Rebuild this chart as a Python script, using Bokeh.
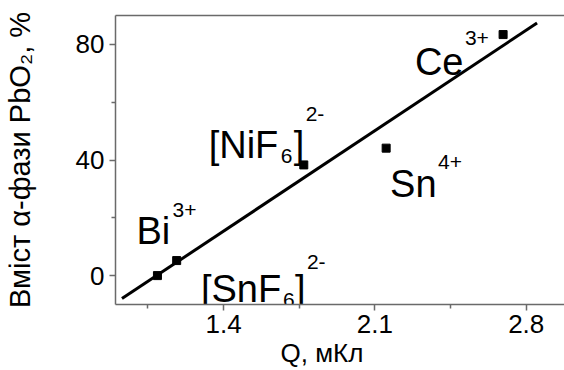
import numpy as np
from bokeh.plotting import figure
from bokeh.models import ColumnDataSource, FixedTicker, LinearAxis, Range1d
from bokeh.embed import file_html
from bokeh.resources import INLINE
from bokeh.core.properties import value

# ---- data ----
ions = ["Bi3+", "[SnF6]2-", "[NiF6]2-", "Sn4+", "Ce3+"]
charge_q = [1.094, 1.183, 1.771, 2.152, 2.693]      # Q, мКл
alpha_pct = [0.0, 5.2, 38.3, 44.1, 83.4]            # вміст α-PbO2, %
fit_q = [0.93, 2.85]                                 # extent of the linear fit
x_ticks = [1.4, 2.1, 2.8]
x_minor = [1.05, 1.75, 2.45]
y_ticks = [0, 40, 80]
y_minor = [20, 60]

# label anchors (data units) and their pieces (text, dx px, dy px, big?)
label_x = [0.997, 1.295, 1.331, 2.170, 2.285]
label_y = [15.4, -4.8, 45.1, 31.8, 73.8]
label_pieces = [
    [("Bi", 0, 0, True), ("3+", 36, -21, False)],
    [("[SnF", 0, 0, True), ("6", 82, 11, False), ("]", 94, 0, True), ("2-", 106, -27, False)],
    [("[NiF", 0, 0, True), ("6", 72, 11, False), ("]", 85, 0, True), ("2-", 97, -31, False)],
    [("Sn", 0, 0, True), ("4+", 48, -22, False)],
    [("Ce", 0, 0, True), ("3+", 50, -24, False)],
]

FONT = "Liberation Sans"

slope, intercept = np.polyfit(charge_q, alpha_pct, 1)
fit_y = [slope * q + intercept for q in fit_q]

p = figure(width=564, height=370, x_range=Range1d(0.9, 2.977), y_range=Range1d(-10, 90),
           output_backend="svg", toolbar_location=None,
           min_border_left=111, min_border_right=0, min_border_top=15, min_border_bottom=63)
p.outline_line_color = None
p.grid.visible = False
p.background_fill_color = "white"
p.border_fill_color = "white"

AX_COL = "#6a6a6a"
for ax in (p.xaxis[0], p.yaxis[0]):
    ax.axis_line_color = AX_COL
    ax.axis_line_width = 1.5
    ax.major_tick_line_color = AX_COL
    ax.minor_tick_line_color = AX_COL
    ax.major_tick_line_width = 1.5
    ax.minor_tick_line_width = 1.5
    ax.major_tick_in = 0
    ax.major_tick_out = 6
    ax.minor_tick_in = 0
    ax.minor_tick_out = 4
    ax.major_label_text_font = FONT
    ax.major_label_text_font_size = "26px"
    ax.major_label_text_color = "black"
    ax.axis_label_text_font = FONT
    ax.axis_label_text_font_style = "normal"
    ax.axis_label_text_color = "black"

p.xaxis.ticker = FixedTicker(ticks=x_ticks, minor_ticks=x_minor)
p.yaxis.ticker = FixedTicker(ticks=y_ticks, minor_ticks=y_minor)
p.xaxis.axis_label = "Q, мКл" + "\u00a0" * 5
p.xaxis.axis_label_text_font_size = "26px"
p.xaxis.axis_label_standoff = 2
p.xaxis.major_label_standoff = 4
p.yaxis.axis_label = "Вміст α-фази PbO₂, %"
p.yaxis.axis_label_text_font_size = "29px"
p.yaxis.axis_label_standoff = 37
p.yaxis.major_label_standoff = 5

top = LinearAxis(ticker=FixedTicker(ticks=[]), axis_line_color=AX_COL, axis_line_width=1.5,
                 major_tick_out=0, major_tick_in=0, minor_tick_out=0, minor_tick_in=0,
                 major_label_text_font_size="0px", axis_label=None)
p.add_layout(top, "above")

p.line(fit_q, fit_y, line_color="black", line_width=3)
p.scatter(charge_q, alpha_pct, marker="square", size=8, color="black")

big = dict(x=[], y=[], text=[], dx=[], dy=[])
small = dict(x=[], y=[], text=[], dx=[], dy=[])
for lx, ly, pieces in zip(label_x, label_y, label_pieces):
    for t, dx, dy, is_big in pieces:
        d = big if is_big else small
        d["x"].append(lx); d["y"].append(ly); d["text"].append(t)
        d["dx"].append(dx); d["dy"].append(dy)

p.text(x="x", y="y", text="text", x_offset="dx", y_offset="dy", source=ColumnDataSource(big),
       text_font=value(FONT), text_font_size="38px", text_baseline="alphabetic",
       text_align="left", text_color="black")
p.text(x="x", y="y", text="text", x_offset="dx", y_offset="dy", source=ColumnDataSource(small),
       text_font=value(FONT), text_font_size="21px", text_baseline="alphabetic",
       text_align="left", text_color="black")

open("out.html", "w").write(file_html(p, INLINE))
